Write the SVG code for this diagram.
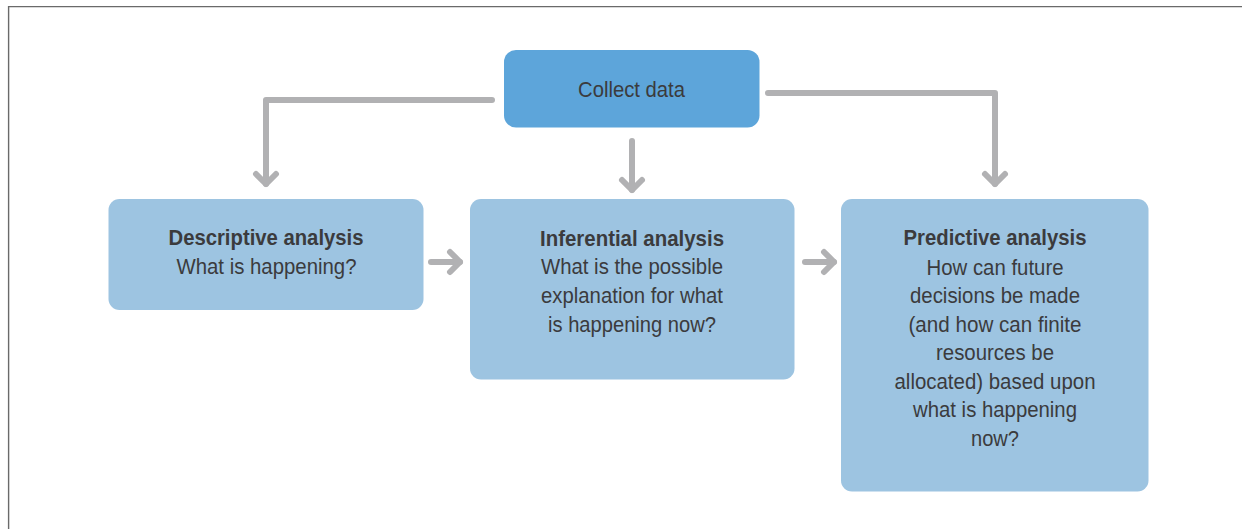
<svg xmlns="http://www.w3.org/2000/svg" width="1242" height="529" viewBox="0 0 1242 529">
<style>
.t{font-family:"Liberation Sans",Arial,sans-serif;fill:#3b3b3d;text-anchor:middle;font-size:22px}
.b{font-weight:bold}
.box{fill:#9dc4e1}
.conn{fill:none;stroke:#b1b1b3;stroke-width:6;stroke-linecap:round;stroke-linejoin:round}
</style>
<defs>
<marker id="ah" markerUnits="userSpaceOnUse" orient="auto" markerWidth="30" markerHeight="30" refX="0" refY="0" viewBox="-15 -15 30 30" overflow="visible">
<path d="M-10,-10 L0,0 L-10,10" fill="none" stroke="#b1b1b3" stroke-width="6" stroke-linecap="round" stroke-linejoin="round"/>
</marker>
</defs>
<rect width="1242" height="529" fill="#ffffff"/>
<path d="M8.6,529 V6.6 H1242" fill="none" stroke="#6a6a6a" stroke-width="1.4"/>
<g id="connectors">
<path class="conn" d="M492,100 H266 V184" marker-end="url(#ah)"/>
<path class="conn" d="M768,93 H995 V184" marker-end="url(#ah)"/>
<path class="conn" d="M632,141 V190" marker-end="url(#ah)"/>
<path class="conn" d="M431,262 H460" marker-end="url(#ah)"/>
<path class="conn" d="M805,262 H834" marker-end="url(#ah)"/>
</g>
<g id="collect">
<rect x="504" y="50" width="255.5" height="77.5" rx="12" fill="#5da5da"/>
<text class="t" x="631.5" y="97" font-size="24" textLength="107" lengthAdjust="spacingAndGlyphs">Collect data</text>
</g>
<g id="descriptive">
<rect class="box" x="108.5" y="199" width="315" height="111" rx="11"/>
<text class="t b" x="266" y="245" textLength="195" lengthAdjust="spacingAndGlyphs">Descriptive analysis</text>
<text class="t" x="266.5" y="274" textLength="180" lengthAdjust="spacingAndGlyphs">What is happening?</text>
</g>
<g id="inferential">
<rect class="box" x="470" y="199" width="324.5" height="180.5" rx="11"/>
<text class="t b" x="632" y="245.5" textLength="184" lengthAdjust="spacingAndGlyphs">Inferential analysis</text>
<text class="t" x="632" y="274" textLength="182" lengthAdjust="spacingAndGlyphs">What is the possible</text>
<text class="t" x="632" y="302.8" textLength="182" lengthAdjust="spacingAndGlyphs">explanation for what</text>
<text class="t" x="632" y="331.5" textLength="168" lengthAdjust="spacingAndGlyphs">is happening now?</text>
</g>
<g id="predictive">
<rect class="box" x="841" y="199" width="307.5" height="292.5" rx="11"/>
<text class="t b" x="995" y="245" textLength="183" lengthAdjust="spacingAndGlyphs">Predictive analysis</text>
<text class="t" x="995" y="275" textLength="137" lengthAdjust="spacingAndGlyphs">How can future</text>
<text class="t" x="995" y="303.4" textLength="170" lengthAdjust="spacingAndGlyphs">decisions be made</text>
<text class="t" x="995" y="331.8" textLength="173" lengthAdjust="spacingAndGlyphs">(and how can finite</text>
<text class="t" x="995" y="360.2" textLength="118" lengthAdjust="spacingAndGlyphs">resources be</text>
<text class="t" x="995" y="388.8" textLength="201" lengthAdjust="spacingAndGlyphs">allocated) based upon</text>
<text class="t" x="995" y="417.4" textLength="164" lengthAdjust="spacingAndGlyphs">what is happening</text>
<text class="t" x="995" y="446" textLength="48" lengthAdjust="spacingAndGlyphs">now?</text>
</g>
</svg>
